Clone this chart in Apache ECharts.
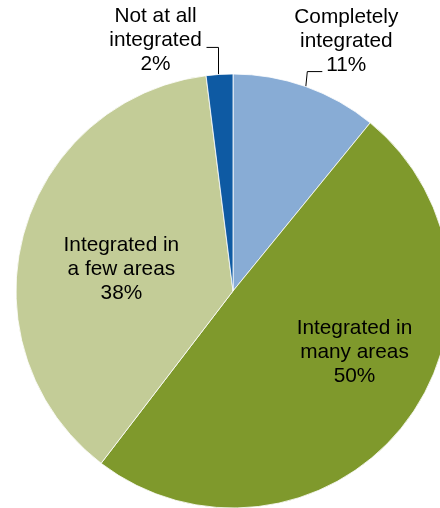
<!DOCTYPE html>
<html>
<head>
<meta charset="utf-8">
<script src="https://cdn.jsdelivr.net/npm/echarts@6/dist/echarts.min.js"></script>
<style>
html,body{margin:0;padding:0;background:#fff;}
#chart{width:440px;height:508px;}
</style>
</head>
<body>
<div id="chart"></div>
<script>
// Data
const categories = ['Completely\nintegrated', 'Integrated in\nmany areas', 'Integrated in\na few areas', 'Not at all\nintegrated'];
const shares = [11, 50, 38, 2];
const outsideLabels = [true, false, false, true];

// Styles
const sliceColors = ['#88ACD5', '#7F992C', '#C3CC97', '#0E5AA3'];

const chart = echarts.init(document.getElementById('chart'), null, {renderer: 'canvas'});

const data = categories.map(function (name, i) {
  const item = {name: name, value: shares[i], itemStyle: {color: sliceColors[i]}};
  if (outsideLabels[i]) {
    item.label = {position: 'outside'};
    item.labelLine = {show: true};
  }
  return item;
});

chart.setOption({
  animation: false,
  series: [{
    type: 'pie',
    center: [233, 291],
    radius: 217,
    startAngle: 90,
    clockwise: true,
    avoidLabelOverlap: false,
    itemStyle: {borderColor: '#ffffff', borderWidth: 0.8},
    label: {
      show: true,
      position: 'inside',
      formatter: '{b}\n{c}%',
      fontFamily: 'Liberation Sans, Arial, sans-serif',
      fontSize: 20.8,
      lineHeight: 24,
      color: '#000',
      align: 'center'
    },
    labelLine: {
      show: true,
      length: 10,
      length2: 10,
      smooth: false,
      lineStyle: {color: '#000', width: 1}
    },
    emphasis: {disabled: true},
    labelLayout: function (p) {
      const a = p.labelLinePoints && p.labelLinePoints[0];
      if (p.dataIndex === 1) return {dx: 34, dy: -8};
      if (p.dataIndex === 2) return {dx: -4, dy: 7};
      if (p.dataIndex === 0 && a) {
        return {
          x: a[0] + 40.5, y: a[1] - 45, align: 'center', verticalAlign: 'middle',
          labelLinePoints: [[a[0], a[1]], [a[0] + 1.5, a[1] - 15], [a[0] + 16.5, a[1] - 15]]
        };
      }
      if (p.dataIndex === 3 && a) {
        return {
          x: a[0] - 64, y: a[1] - 34, align: 'center', verticalAlign: 'middle',
          labelLinePoints: [[a[0] - 1, a[1] + 3], [a[0] - 1, a[1] - 27], [a[0] - 13, a[1] - 27]]
        };
      }
      return {};
    },
    data: data
  }]
});
</script>
</body>
</html>
